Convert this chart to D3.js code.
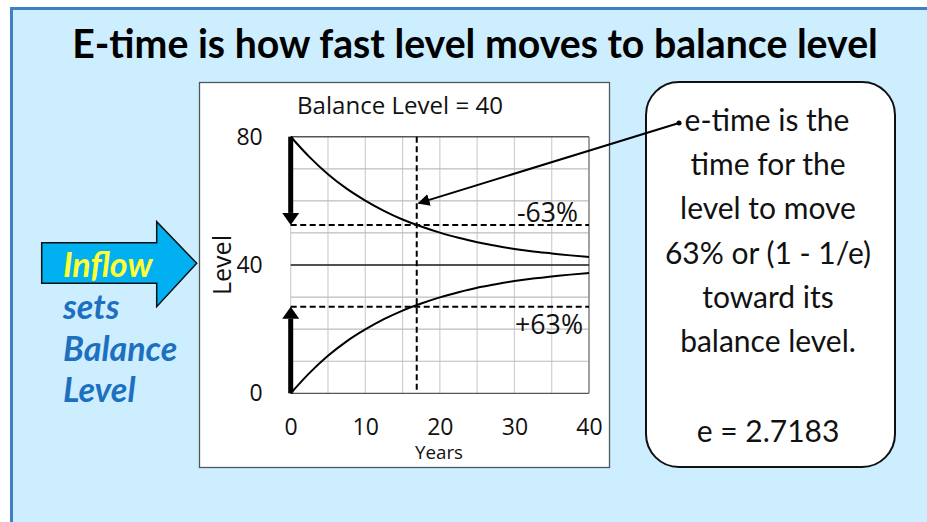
<!DOCTYPE html>
<html>
<head>
<meta charset="utf-8">
<script src="https://cdn.jsdelivr.net/npm/d3@7/dist/d3.min.js"></script>
<style>
  html, body { margin: 0; padding: 0; background: #fff; }
  svg { display: block; }
</style>
</head>
<body>
<div id="chart"></div>
<script>
// ---- data ----
const years = [0, 2.5, 5, 7.5, 10, 12.5, 15, 17.5, 20, 22.5, 25, 27.5, 30, 32.5, 35, 37.5, 40];
const fallingLevel = [80, 73.7, 68.3, 63.8, 60.1, 56.9, 54.2, 52.0, 50.1, 48.5, 47.1, 46.0, 45.0, 44.2, 43.6, 43.0, 42.5];
const risingLevel  = [0, 6.3, 11.7, 16.2, 19.9, 23.1, 25.8, 28.0, 29.9, 31.5, 32.9, 34.0, 35.0, 35.8, 36.4, 37.0, 37.5];
const balanceLevel = 40;
const eTime = 16.9;
const dashLevels = [52.5, 27];          // -63% and +63% marks
const xTicks = [0, 10, 20, 30, 40];
const yTicks = [0, 40, 80];
const xGrid = d3.range(0, 41, 5);
const yGrid = d3.range(0, 81, 10);
const boxLines = ["e-time is the", "time for the", "level to move", "63% or (1 - 1/e)", "toward its", "balance level."];
const eValue = "e = 2.7183";
const leftWords = ["sets", "Balance", "Level"];

// ---- layout ----
const W = 927, H = 522;
const chartFont = "'Open Sans', sans-serif";
const svg = d3.select("#chart").append("svg")
    .attr("width", W)
    .attr("height", H);

// shrink/grow a text so it spans the given width
function fitWidth(sel, base, target) {
    const w = sel.node().getComputedTextLength();
    sel.style("font-size", (base * target / w) + "px");
}

// slide background
svg.append("rect")
    .attr("x", 11.5).attr("y", 8.5)
    .attr("width", 1000).attr("height", 600)
    .attr("fill", "#cdeefe")
    .attr("stroke", "#3f7fc4")
    .attr("stroke-width", 3);

// title
const title = svg.append("text")
    .attr("x", 475).attr("y", 58)
    .attr("text-anchor", "middle")
    .style("font-family", "Lato, sans-serif")
    .style("font-weight", "700")
    .style("font-size", "36px")
    .attr("fill", "#000")
    .text("E-time is how fast level moves to balance level");
fitWidth(title, 36, 806);

// chart box
svg.append("rect")
    .attr("x", 199.5).attr("y", 82.5)
    .attr("width", 410).attr("height", 385)
    .attr("fill", "#fff")
    .attr("stroke", "#50585e")
    .attr("stroke-width", 1.3);

// scales
const x = d3.scaleLinear().domain([0, 40]).range([290.7, 589]);
const y = d3.scaleLinear().domain([0, 80]).range([393.3, 136.7]);

const plot = svg.append("g");

// grid
plot.selectAll(".vgrid")
    .data(xGrid)
    .enter().append("line")
    .attr("x1", d => x(d)).attr("x2", d => x(d))
    .attr("y1", y(0)).attr("y2", y(80))
    .attr("stroke", "#cfcfcf")
    .attr("stroke-width", 1.2);

plot.selectAll(".hgrid")
    .data(yGrid)
    .enter().append("line")
    .attr("x1", x(0)).attr("x2", x(40))
    .attr("y1", d => y(d)).attr("y2", d => y(d))
    .attr("stroke", d => d === 80 || d === 0 ? "#555" : "#bdbdbd")
    .attr("stroke-width", d => d === 80 ? 1.6 : 1.2);

// right border of plot
plot.append("line")
    .attr("x1", x(40)).attr("x2", x(40))
    .attr("y1", y(0)).attr("y2", y(80))
    .attr("stroke", "#777").attr("stroke-width", 1.2);

// balance line
plot.append("line")
    .attr("x1", x(0)).attr("x2", x(40))
    .attr("y1", y(balanceLevel)).attr("y2", y(balanceLevel))
    .attr("stroke", "#222").attr("stroke-width", 1.6);

// axes tick labels
const xAxis = svg.append("g")
    .attr("transform", `translate(0,${y(0)})`)
    .call(d3.axisBottom(x).tickValues(xTicks).tickSize(0).tickPadding(25));
xAxis.select(".domain").remove();
xAxis.selectAll("text")
    .style("font-family", chartFont)
    .style("font-size", "23px")
    .attr("fill", "#111");

const yAxis = svg.append("g")
    .attr("transform", `translate(${x(0)},0)`)
    .call(d3.axisLeft(y).tickValues(yTicks).tickSize(0).tickPadding(28));
yAxis.select(".domain").remove();
yAxis.selectAll("text")
    .style("font-family", chartFont)
    .style("font-size", "23px")
    .attr("fill", "#111");

const yearsLabel = svg.append("text")
    .attr("x", 439).attr("y", 459)
    .attr("text-anchor", "middle")
    .style("font-family", chartFont)
    .style("font-size", "20px")
    .attr("fill", "#111")
    .text("Years");
fitWidth(yearsLabel, 20, 48);

const levelLabel = svg.append("text")
    .attr("transform", `translate(231,${y(40)}) rotate(-90)`)
    .attr("text-anchor", "middle")
    .style("font-family", chartFont)
    .style("font-size", "26px")
    .attr("fill", "#111")
    .text("Level");
fitWidth(levelLabel, 26, 60);

const balLabel = svg.append("text")
    .attr("x", 400).attr("y", 114)
    .attr("text-anchor", "middle")
    .style("font-family", chartFont)
    .style("font-size", "23px")
    .attr("fill", "#111")
    .text("Balance Level = " + balanceLevel);
fitWidth(balLabel, 23, 206);

// dashed marks
plot.selectAll(".hdash")
    .data(dashLevels)
    .enter().append("line")
    .attr("x1", x(0)).attr("x2", x(40))
    .attr("y1", d => y(d)).attr("y2", d => y(d))
    .attr("stroke", "#000")
    .attr("stroke-width", 2)
    .attr("stroke-dasharray", "6,3.5");

plot.append("line")
    .attr("x1", x(eTime)).attr("x2", x(eTime))
    .attr("y1", y(80)).attr("y2", y(0))
    .attr("stroke", "#000")
    .attr("stroke-width", 2)
    .attr("stroke-dasharray", "6,3.5");

// curves
const line = d3.line()
    .x(d => x(d[0]))
    .y(d => y(d[1]))
    .curve(d3.curveMonotoneX);

[fallingLevel, risingLevel].forEach(series => {
    plot.append("path")
        .datum(years.map((t, i) => [t, series[i]]))
        .attr("d", line)
        .attr("fill", "none")
        .attr("stroke", "#000")
        .attr("stroke-width", 2);
});

// percentage labels
const minusLabel = svg.append("text")
    .attr("x", x(40) - 11).attr("y", y(dashLevels[0]) - 3)
    .attr("text-anchor", "end")
    .style("font-family", chartFont)
    .style("font-size", "28px")
    .attr("fill", "#111")
    .text("-63%");
fitWidth(minusLabel, 28, 61);

const plusLabel = svg.append("text")
    .attr("x", x(40) - 6).attr("y", y(dashLevels[1]) + 27)
    .attr("text-anchor", "end")
    .style("font-family", chartFont)
    .style("font-size", "28px")
    .attr("fill", "#111")
    .text("+63%");
fitWidth(plusLabel, 28, 68);

// thick arrows on the y-axis
function thickArrow(fromLevel, toLevel) {
    const x0 = x(0);
    const y0 = y(fromLevel), y1 = y(toLevel);
    const dir = y1 > y0 ? 1 : -1;
    const headLen = 12, headHalf = 8.5;
    plot.append("line")
        .attr("x1", x0).attr("x2", x0)
        .attr("y1", y0).attr("y2", y1 - dir * headLen)
        .attr("stroke", "#000")
        .attr("stroke-width", 5);
    plot.append("path")
        .attr("d", `M${x0 - headHalf},${y1 - dir * headLen} L${x0 + headHalf},${y1 - dir * headLen} L${x0},${y1} Z`)
        .attr("fill", "#000");
}
thickArrow(80, dashLevels[0]);
thickArrow(0, dashLevels[1]);

// right call-out box
svg.append("rect")
    .attr("x", 646).attr("y", 82)
    .attr("width", 249).attr("height", 385)
    .attr("rx", 33).attr("ry", 33)
    .attr("fill", "#fff")
    .attr("stroke", "#111")
    .attr("stroke-width", 2);

const boxText = svg.append("g")
    .style("font-family", "Lato, sans-serif")
    .style("font-size", "30px")
    .attr("fill", "#111")
    .attr("text-anchor", "middle");

boxText.selectAll("text")
    .data(boxLines)
    .enter().append("text")
    .attr("x", (d, i) => i === 0 ? 767 : 768)
    .attr("y", (d, i) => 131 + i * 44.2)
    .text(d => d);

boxText.append("text")
    .attr("x", 768).attr("y", 442)
    .text(eValue);

// pointer from call-out to e-time
svg.append("defs").append("marker")
    .attr("id", "tip")
    .attr("viewBox", "0 0 10 10")
    .attr("refX", 9).attr("refY", 5)
    .attr("markerWidth", 6).attr("markerHeight", 6)
    .attr("markerUnits", "strokeWidth")
    .attr("orient", "auto")
    .append("path")
    .attr("d", "M0,0 L10,5 L0,10 Z")
    .attr("fill", "#000");

svg.append("line")
    .attr("x1", 679).attr("y1", 123)
    .attr("x2", x(eTime) + 2).attr("y2", y(59.3))
    .attr("stroke", "#000")
    .attr("stroke-width", 2)
    .attr("marker-end", "url(#tip)");

svg.append("circle")
    .attr("cx", 679).attr("cy", 123)
    .attr("r", 2.5)
    .attr("fill", "#000");

// left inflow arrow
const arrowPts = [[41.7, 242.7], [156.7, 242.7], [156.7, 221.7], [196.7, 263.3],
                  [156.7, 306.7], [156.7, 283.3], [41.7, 283.3]];
svg.append("polygon")
    .attr("points", arrowPts.map(p => p.join(",")).join(" "))
    .attr("fill", "#00b0f0")
    .attr("stroke", "#111")
    .attr("stroke-width", 1.5);

svg.append("text")
    .attr("x", 63).attr("y", 277)
    .style("font-family", "Lato, sans-serif")
    .style("font-weight", "700")
    .style("font-style", "italic")
    .style("font-size", "34px")
    .attr("fill", "#ffff33")
    .text("Inflow");

svg.append("g")
    .selectAll("text")
    .data(leftWords)
    .enter().append("text")
    .attr("x", 63)
    .attr("y", (d, i) => 319 + i * 41.5)
    .style("font-family", "Lato, sans-serif")
    .style("font-weight", "700")
    .style("font-style", "italic")
    .style("font-size", "34px")
    .attr("fill", "#1d70bf")
    .text(d => d);
</script>
</body>
</html>
